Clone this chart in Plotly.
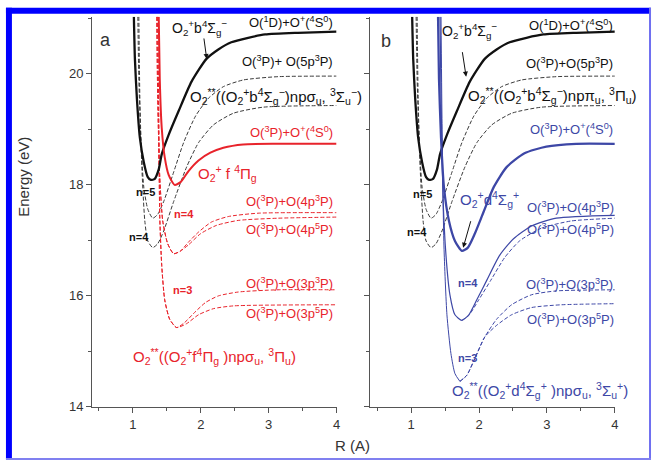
import plotly.graph_objects as go

W, H = 656, 468

# ---------------- data (R in Angstrom, Energy in eV) ----------------
# black solid: O2+ b4Sigma_g-
R_b4 = [1.015, 1.030, 1.059, 1.103, 1.161, 1.220, 1.264, 1.322, 1.381, 1.425, 1.527, 1.674, 1.864, 2.084, 2.259, 2.450, 2.699, 2.948, 3.431, 4.0]
E_b4 = [21.03, 20.27, 19.56, 18.85, 18.41, 18.14, 18.09, 18.11, 18.28, 18.55, 18.90, 19.33, 19.86, 20.27, 20.44, 20.57, 20.65, 20.71, 20.74, 20.76]

# black dashed Rydberg n=5 (-> 5p3P) and n=4
R_bn5 = [1.073, 1.088, 1.117, 1.161, 1.220, 1.293, 1.366, 1.454, 1.601, 1.747, 1.923, 2.113, 2.333, 2.625, 3.138, 4.0]
E_bn5 = [21.03, 19.91, 18.85, 17.96, 17.56, 17.40, 17.47, 17.70, 18.23, 18.76, 19.24, 19.56, 19.77, 19.89, 19.95, 19.96]
R_bn4 = [1.088, 1.103, 1.132, 1.176, 1.220, 1.293, 1.366, 1.454, 1.601, 1.791, 1.967, 2.186, 2.479, 2.918, 4.0]
E_bn4 = [21.03, 19.56, 18.32, 17.35, 16.99, 16.87, 16.94, 17.17, 17.70, 18.32, 18.76, 19.08, 19.29, 19.40, 19.43]

# red solid: O2+ f4Pi_g
R_f4 = [1.381, 1.396, 1.425, 1.469, 1.527, 1.615, 1.703, 1.820, 1.967, 2.142, 2.333, 2.625, 3.138, 4.0]
E_f4 = [21.03, 19.91, 19.03, 18.50, 18.18, 18.00, 18.05, 18.25, 18.44, 18.58, 18.67, 18.73, 18.74, 18.74]

# red dashed n=4 pair
R_fn4a = [1.352, 1.366, 1.396, 1.440, 1.513, 1.601, 1.703, 1.820, 1.967, 2.157, 2.406, 2.845, 4.0]
E_fn4a = [21.03, 19.56, 18.14, 17.35, 16.94, 16.76, 16.81, 16.97, 17.15, 17.33, 17.43, 17.49, 17.50]
R_fn4b = [1.352, 1.366, 1.396, 1.440, 1.513, 1.601, 1.703, 1.820, 1.996, 2.230, 2.552, 3.138, 4.0]
E_fn4b = [21.03, 19.56, 18.14, 17.35, 16.94, 16.76, 16.81, 16.92, 17.12, 17.27, 17.36, 17.40, 17.42]

# red dashed n=3 pair
R_fn3a = [1.366, 1.381, 1.396, 1.425, 1.469, 1.542, 1.644, 1.762, 1.908, 2.069, 2.259, 2.552, 3.138, 4.0]
E_fn3a = [21.03, 19.20, 17.43, 16.55, 15.93, 15.58, 15.43, 15.52, 15.70, 15.88, 16.00, 16.07, 16.11, 16.11]
R_fn3b = [1.366, 1.381, 1.396, 1.425, 1.469, 1.542, 1.644, 1.791, 1.967, 2.186, 2.479, 4.0]
E_fn3b = [21.03, 19.20, 17.43, 16.55, 15.93, 15.58, 15.43, 15.50, 15.66, 15.77, 15.82, 15.84]

# blue thick: O2+ d4Sigma_g+
R_d4 = [1.396, 1.410, 1.440, 1.483, 1.557, 1.645, 1.747, 1.835, 1.937, 2.069, 2.216, 2.406, 2.669, 2.991, 3.431, 4.0]
E_d4 = [21.03, 19.91, 18.85, 17.96, 17.35, 16.99, 16.81, 16.87, 17.12, 17.52, 17.96, 18.32, 18.57, 18.69, 18.74, 18.74]

# blue n=4 (solid) and companion (dashed)
R_dn4a = [1.425, 1.440, 1.469, 1.513, 1.571, 1.645, 1.747, 1.850, 1.967, 2.113, 2.303, 2.508, 2.772, 3.138, 4.0]
E_dn4a = [21.03, 19.56, 17.79, 16.73, 16.02, 15.66, 15.56, 15.66, 15.93, 16.28, 16.73, 17.03, 17.26, 17.40, 17.45]
R_dn4b = [1.747, 1.850, 1.996, 2.172, 2.377, 2.596, 2.918, 3.357, 4.0]
E_dn4b = [15.56, 15.65, 15.93, 16.28, 16.69, 16.99, 17.22, 17.35, 17.40]

# blue n=3 pair
R_dn3w = [1.440, 1.454, 1.483, 1.527, 1.586, 1.645, 1.718]
E_dn3w = [21.03, 19.20, 16.90, 15.66, 14.96, 14.60, 14.46]
R_dn3a = [1.718, 1.820, 1.937, 2.084, 2.259, 2.479, 2.772, 3.138, 4.0]
E_dn3a = [14.46, 14.57, 14.87, 15.26, 15.58, 15.84, 16.02, 16.09, 16.11]
R_dn3b = [1.718, 1.820, 1.937, 2.084, 2.259, 2.479, 2.772, 3.211, 4.0]
E_dn3b = [14.46, 14.57, 14.87, 15.26, 15.47, 15.66, 15.79, 15.84, 15.86]

x_ticks = [1, 2, 3, 4]
y_ticks = [14, 16, 18, 20]

BLACK = "#111111"
DASHK = "#3a3a3a"
RED = "#e8232b"
BLUE = "#3d47a6"
FONT = "Liberation Sans, Arial, sans-serif"

fig = go.Figure()

def add(R, E, color, width, dash, xa, ya):
    fig.add_trace(go.Scatter(x=R, y=E, mode="lines", xaxis=xa, yaxis=ya,
                             line=dict(color=color, width=width, dash=dash, shape="spline", smoothing=0.6),
                             showlegend=False, hoverinfo="skip"))

# panel a
add(R_bn5, E_bn5, DASHK, 1, "4px,2px", "x", "y")
add(R_bn4, E_bn4, DASHK, 1, "4px,2px", "x", "y")
add(R_fn4a, E_fn4a, RED, 1, "4px,2px", "x", "y")
add(R_fn4b, E_fn4b, RED, 1, "4px,2px", "x", "y")
add(R_fn3a, E_fn3a, RED, 1, "4px,2px", "x", "y")
add(R_fn3b, E_fn3b, RED, 1, "4px,2px", "x", "y")
add(R_b4, E_b4, BLACK, 2.3, "solid", "x", "y")
add(R_f4, E_f4, RED, 2, "solid", "x", "y")

# panel b
add(R_bn5, E_bn5, DASHK, 1, "4px,2px", "x2", "y2")
add(R_bn4, E_bn4, DASHK, 1, "4px,2px", "x2", "y2")
add(R_dn3w, E_dn3w, BLUE, 1, "solid", "x2", "y2")
add(R_dn3a, E_dn3a, BLUE, 1, "4px,2px", "x2", "y2")
add(R_dn3b, E_dn3b, BLUE, 1, "4px,2px", "x2", "y2")
add(R_dn4b, E_dn4b, BLUE, 1, "4px,2px", "x2", "y2")
add(R_dn4a, E_dn4a, BLUE, 1.2, "solid", "x2", "y2")
add(R_b4, E_b4, BLACK, 2.3, "solid", "x2", "y2")
add(R_d4, E_d4, BLUE, 2.3, "solid", "x2", "y2")

def px(x):
    return x / W

def py(y):
    return 1 - y / H

axis_common = dict(showline=True, linecolor="#555555", linewidth=1, ticks="outside",
                   ticklen=5, tickwidth=1, tickcolor="#555555", showgrid=False, zeroline=False,
                   tickfont=dict(family=FONT, size=13, color="#333333"))

xr = [0.4, 4.0]
yr = [14, 21.03]
fig.update_layout(
    width=W, height=H, margin=dict(l=0, r=0, t=0, b=0),
    paper_bgcolor="white", plot_bgcolor="white",
    xaxis=dict(domain=[px(92.7), px(338.6)], range=xr, tickvals=x_ticks, anchor="y",
               minor=dict(ticks="outside", ticklen=3, dtick=0.5, tick0=0, tickcolor="#555555"), **axis_common),
    yaxis=dict(domain=[py(414), py(17)], range=yr, tickvals=y_ticks, anchor="x",
               minor=dict(ticks="outside", ticklen=3, dtick=1, tick0=0, tickcolor="#555555"), **axis_common),
    xaxis2=dict(domain=[px(372.7), px(618.6)], range=xr, tickvals=x_ticks, anchor="y2",
                minor=dict(ticks="outside", ticklen=3, dtick=0.5, tick0=0, tickcolor="#555555"), **axis_common),
    yaxis2=dict(domain=[py(414), py(17)], range=yr, tickvals=y_ticks, anchor="x2", showticklabels=False,
                minor=dict(ticks="outside", ticklen=3, dtick=1, tick0=0, tickcolor="#555555"), **axis_common),
)

ann = []

def label(text, x, y, color, size=13, xanchor="center", bold=False):
    t = f"<b>{text}</b>" if bold else text
    ann.append(dict(text=t, x=px(x), y=py(y), xref="paper", yref="paper", showarrow=False,
                    xanchor=xanchor, yanchor="middle", font=dict(family=FONT, size=size, color=color)))

def arrow(xt, yt, dx, dy, color="#111111"):
    ann.append(dict(text="", x=px(xt), y=py(yt), xref="paper", yref="paper", showarrow=True,
                    ax=dx, ay=dy, arrowhead=2, arrowsize=1, arrowwidth=1, arrowcolor=color))

# axis titles and panel letters
ann.append(dict(text="Energy (eV)", x=px(24), y=py(180), xref="paper", yref="paper", showarrow=False,
                xanchor="center", yanchor="middle",
                textangle=-90, font=dict(family=FONT, size=15, color="#333333")))
label("R (A)", 355, 453, "#333333", 15)
label("a", 106, 41, "#333333", 18)
label("b", 388, 42, "#333333", 18)

# panel a labels
label("O<sub>2</sub><sup>+</sup>b<sup>4</sup>Σ<sub>g</sub><sup>−</sup>", 201, 28, BLACK, 14)
arrow(208, 60, -3, -22)
label("O(<sup>1</sup>D)+O<sup>+</sup>(<sup>4</sup>S<sup>0</sup>)", 337, 22, BLACK, 13, "right")
label("O(<sup>3</sup>P)+ O(5p<sup>3</sup>P)", 337, 62, BLACK, 13, "right")
label("O<sub>2</sub><sup>**</sup>((O<sub>2</sub><sup>+</sup>b<sup>4</sup>Σ<sub>g</sub><sup>−</sup>)npσ<sub>u</sub>, <sup>3</sup>Σ<sub>u</sub><sup>−</sup>)",
      189, 98, BLACK, 15, "left")
label("O(<sup>3</sup>P)+O<sup>+</sup>(<sup>4</sup>S<sup>0</sup>)", 337, 134, RED, 13, "right")
label("O<sub>2</sub><sup>+</sup> f <sup>4</sup>Π<sub>g</sub>", 229, 177, RED, 15)
label("O(<sup>3</sup>P)+O(4p<sup>3</sup>P)", 337, 205, RED, 13, "right")
label("O(<sup>3</sup>P)+O(4p<sup>5</sup>P)", 337, 233, RED, 13, "right")
label("O(<sup>3</sup>P)+O(3p<sup>3</sup>P)", 337, 288, RED, 13, "right")
label("O(<sup>3</sup>P)+O(3p<sup>5</sup>P)", 337, 318, RED, 13, "right")
label("O<sub>2</sub><sup>**</sup>((O<sub>2</sub><sup>+</sup>f<sup>4</sup>Π<sub>g</sub> )npσ<sub>u</sub>, <sup>3</sup>Π<sub>u</sub>)",
      216, 363, RED, 15)
label("n=5", 146, 195, BLACK, 11, bold=True)
label("n=4", 140, 241, BLACK, 11, bold=True)
label("n=4", 185, 218, RED, 11, bold=True)
label("n=3", 184, 295, RED, 11, bold=True)

# panel b labels
label("O<sub>2</sub><sup>+</sup>b<sup>4</sup>Σ<sub>g</sub><sup>−</sup>", 472, 32, BLACK, 14)
arrow(469, 78, -4, -26)
label("O(<sup>1</sup>D)+O<sup>+</sup>(<sup>4</sup>S<sup>0</sup>)", 619, 25, BLACK, 13, "right")
label("O(<sup>3</sup>P)+O(5p<sup>3</sup>P)", 619, 64, BLACK, 13, "right")
label("O<sub>2</sub><sup>**</sup>((O<sub>2</sub><sup>+</sup>b<sup>4</sup>Σ<sub>g</sub><sup>−</sup>)npπ<sub>u</sub>, <sup>3</sup>Π<sub>u</sub>)",
      469, 97, BLACK, 15, "left")
label("O(<sup>3</sup>P)+O<sup>+</sup>(<sup>4</sup>S<sup>0</sup>)", 619, 131, BLUE, 13, "right")
label("O<sub>2</sub><sup>+</sup>d<sup>4</sup>Σ<sub>g</sub><sup>+</sup>", 493, 203, BLUE, 15)
arrow(466, 252, 8, -28)
label("O(<sup>3</sup>P)+O(4p<sup>3</sup>P)", 620, 211, BLUE, 13, "right")
label("O(<sup>3</sup>P)+O(4p<sup>5</sup>P)", 620, 233, BLUE, 13, "right")
label("O(<sup>3</sup>P)+O(3p<sup>3</sup>P)", 619, 289, BLUE, 13, "right")
label("O(<sup>3</sup>P)+O(3p<sup>5</sup>P)", 620, 325, BLUE, 13, "right")
label("O<sub>2</sub><sup>**</sup>((O<sub>2</sub><sup>+</sup>d<sup>4</sup>Σ<sub>g</sub><sup>+</sup> )npσ<sub>u</sub>, <sup>3</sup>Σ<sub>u</sub><sup>+</sup>)",
      543, 397, BLUE, 15)
label("n=5", 425, 197, BLACK, 11, bold=True)
label("n=4", 420, 236, BLACK, 11, bold=True)
label("n=4", 471, 288, BLUE, 11, bold=True)
label("n=3", 470, 364, BLUE, 11, bold=True)

fig.update_layout(annotations=ann)

# blue frame
shapes = [
    dict(type="rect", xref="paper", yref="paper", x0=px(6), x1=px(655), y0=py(14), y1=py(8),
         fillcolor="#0000ff", line=dict(width=0)),
    dict(type="rect", xref="paper", yref="paper", x0=px(6), x1=px(12), y0=py(467), y1=py(8),
         fillcolor="#0000ff", line=dict(width=0)),
    dict(type="rect", xref="paper", yref="paper", x0=px(653), x1=px(655), y0=py(467), y1=py(8),
         fillcolor="#6f6ff0", line=dict(width=0)),
    dict(type="rect", xref="paper", yref="paper", x0=px(6), x1=px(655), y0=py(468), y1=py(466),
         fillcolor="#8080f0", line=dict(width=0)),
]
fig.update_layout(shapes=shapes)

fig.write_html("out.html")
